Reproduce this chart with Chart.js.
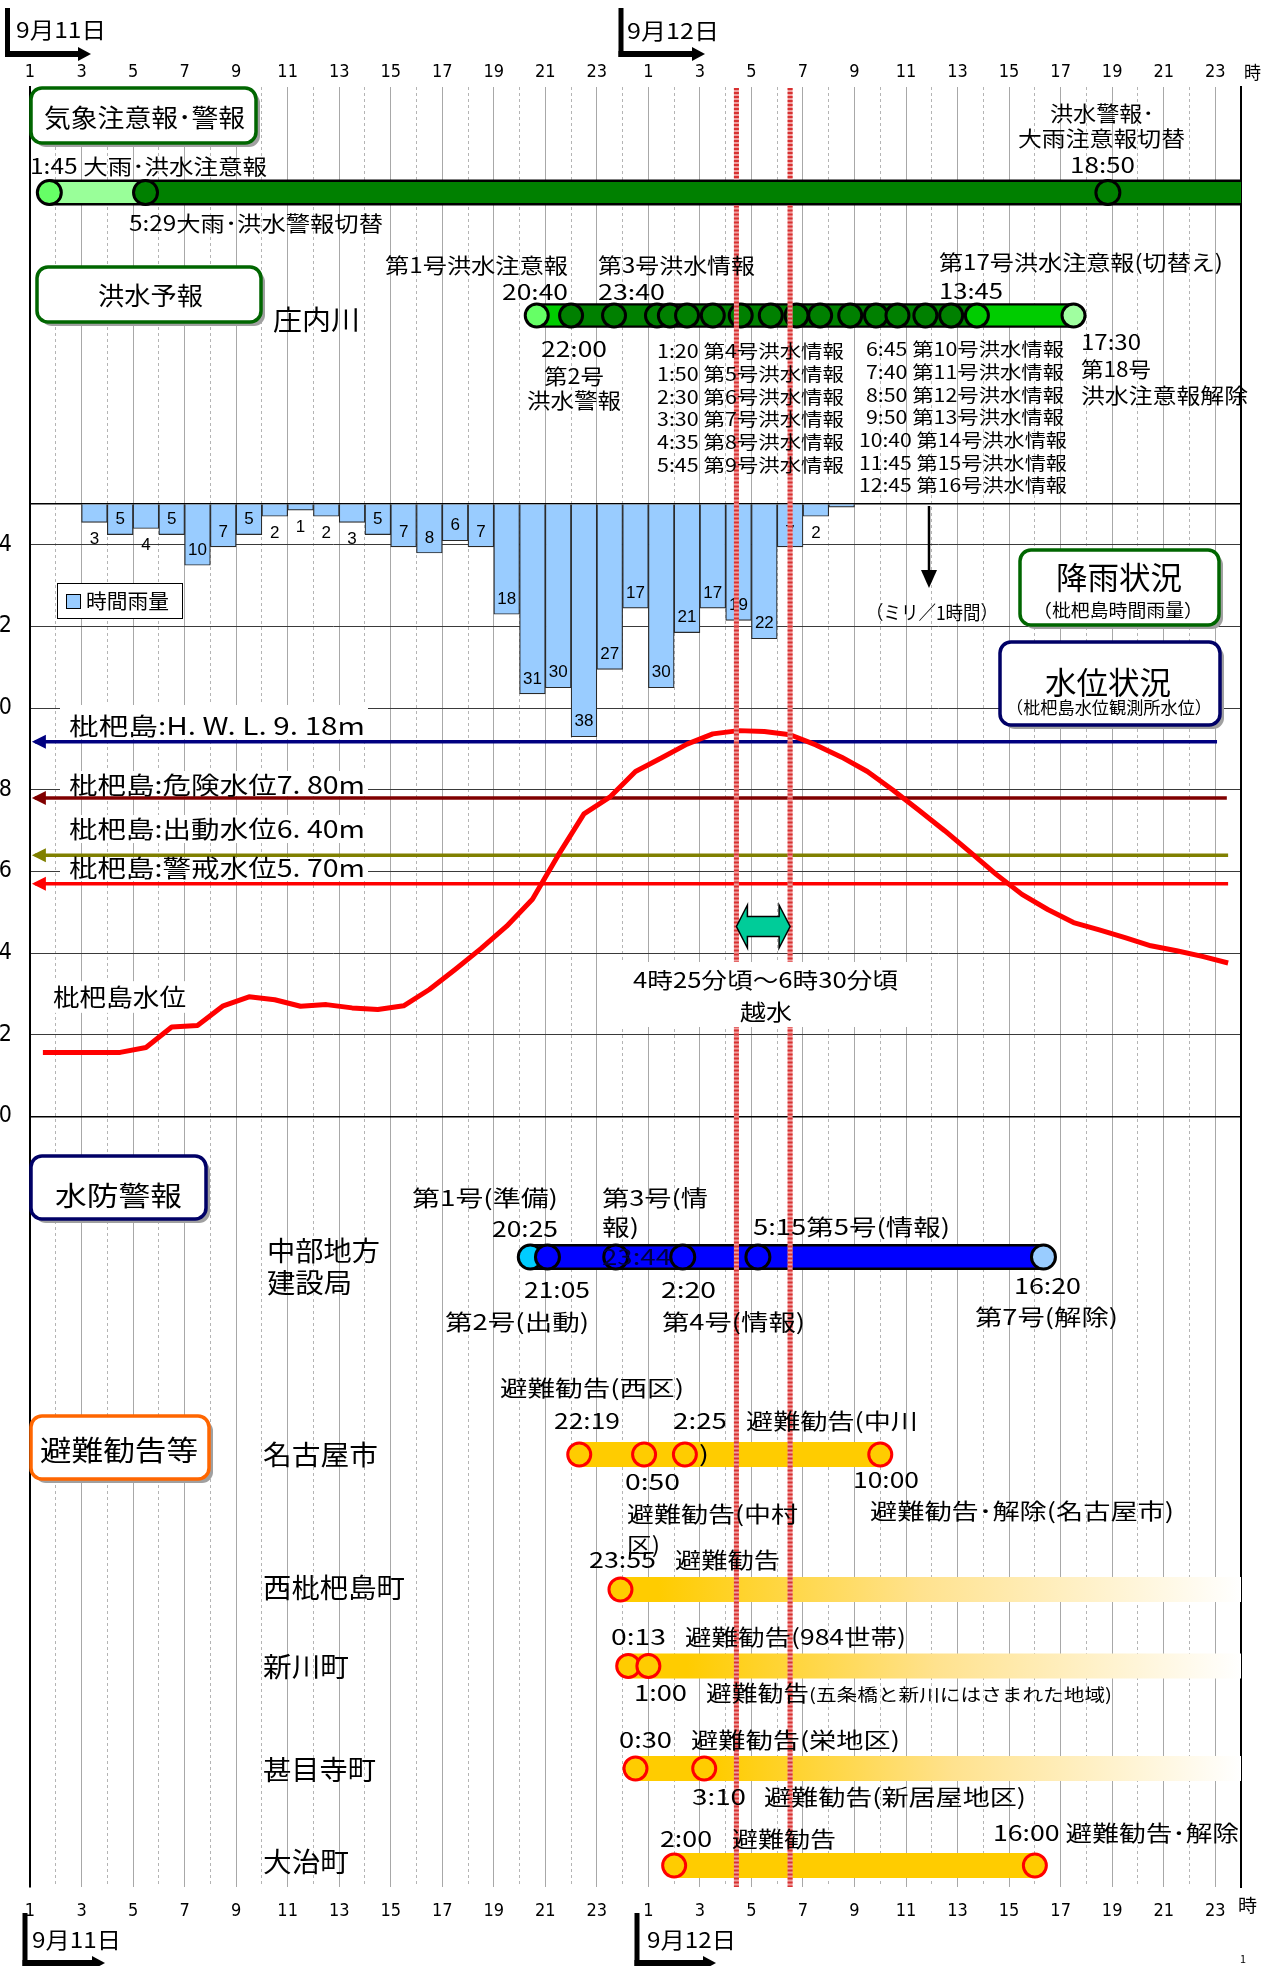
<!DOCTYPE html>
<html lang="ja">
<head>
<meta charset="utf-8">
<title>庄内川 枇杷島 時系列</title>
<script src="https://cdn.jsdelivr.net/npm/chart.js@4.4.1/dist/chart.umd.min.js"></script>
<style>
  html, body { margin:0; padding:0; background:#fff; }
  body { width:1268px; height:1966px; overflow:hidden; position:relative; }
  #c { position:absolute; left:-20px; top:0; }
</style>
</head>
<body>
<canvas id="c" width="1288" height="1966"></canvas>
<script>
// ===================== DATA =====================
// hour index: 9/11 1:00 = 1 ... 9/12 24:00 = 48
const X_TICKS = [1,3,5,7,9,11,13,15,17,19,21,23,25,27,29,31,33,35,37,39,41,43,45,47];
const X_TICK_LABELS = ['1','3','5','7','9','11','13','15','17','19','21','23','1','3','5','7','9','11','13','15','17','19','21','23'];
const X_MINOR_TICKS = [2,4,6,8,10,12,14,16,18,20,22,24,26,28,30,32,34,36,38,40,42,44,46];
const LEVEL_TICKS = [0,2,4,6,8,10,12,14];
const RAIN_TICKS = [0,10,20,30,40,50,60,70,80,90,100];

// hourly rainfall at Biwajima (mm / hour), x = centre of the hour
const RAIN_T  = [3.5,4.5,5.5,6.5,7.5,8.5,9.5,10.5,11.5,12.5,13.5,14.5,15.5,16.5,17.5,18.5,19.5,20.5,21.5,22.5,23.5,24.5,25.5,26.5,27.5,28.5,29.5,30.5,31.5,32.5];
const RAIN_MM = [3,5,4,5,10,7,5,2,1,2,3,5,7,8,6,7,18,31,30,38,27,17,30,21,17,19,22,7,2,0.5];

// Biwajima water level (m)
const LEVEL_T = [1.5,2.5,3.5,4.5,5.5,6.5,7.5,8.5,9.5,10.5,11.5,12.5,13.5,14.5,15.5,16.5,17.5,18.5,19.5,20.5,21.5,22.5,23.5,24.5,25.5,26.5,27.5,28.5,29.5,30.5,31.5,32.5,33.5,34.5,35.5,36.5,37.5,38.5,39.5,40.5,41.5,42.5,43.5,44.5,45.5,46.5,47.5];
const LEVEL_M = [1.57,1.57,1.57,1.57,1.69,2.19,2.23,2.71,2.93,2.86,2.70,2.74,2.66,2.62,2.71,3.11,3.60,4.11,4.66,5.32,6.40,7.41,7.82,8.45,8.78,9.12,9.37,9.45,9.43,9.35,9.10,8.80,8.45,7.99,7.50,7.00,6.47,5.93,5.44,5.07,4.75,4.57,4.38,4.18,4.06,3.92,3.76];

// reference water levels
const THRESH_LABELS = ['枇杷島:H. W. L. 9. 18m','枇杷島:危険水位7. 80m','枇杷島:出動水位6. 40m','枇杷島:警戒水位5. 70m'];
const THRESH_M = [9.18, 7.80, 6.40, 5.70];

// events ("day h:mm")
const WEATHER_EVENTS  = ['11 1:45','11 5:29','12 18:50'];
const FLOOD_EVENTS    = ['11 20:40','11 22:00','11 23:40','12 1:20','12 1:50','12 2:30','12 3:30','12 4:35','12 5:45','12 6:45','12 7:40','12 8:50','12 9:50','12 10:40','12 11:45','12 12:45','12 13:45','12 17:30'];
const SUIBOU_EVENTS   = ['11 20:25','11 21:05','11 23:44','12 2:20','12 5:15','12 16:20'];
const NAGOYA_EVENTS   = ['11 22:19','12 0:50','12 2:25','12 10:00'];
const NISHI_EVENTS    = ['11 23:55'];
const SHINKAWA_EVENTS = ['12 0:13','12 1:00'];
const JIMOKUJI_EVENTS = ['12 0:30','12 3:10'];
const OHARU_EVENTS    = ['12 2:00','12 16:00'];
const OVERFLOW        = ['12 4:25','12 6:30'];
const AXIS_END        = '12 24:00';

// ===================== LAYOUT / STYLE =====================
const W = 1288, H = 1966, OFF = 20;          // canvas is shifted 20px left of page
const TOP = 87, BOT = 1887;                   // chart area (page y)
const WATER_TOP_Y = 504, WATER_BOT_Y = 1116.5; // 15 m / 0 m ; rain 0 / 100 mm
const pxPerM = (WATER_BOT_Y - WATER_TOP_Y) / 15;
const W_MAX = 15 + (WATER_TOP_Y - TOP) / pxPerM, W_MIN = -(BOT - WATER_BOT_Y) / pxPerM;
const pxPerMM = (WATER_BOT_Y - WATER_TOP_Y) / 100;
const R_MIN = -(WATER_TOP_Y - TOP) / pxPerMM, R_MAX = (BOT - WATER_TOP_Y) / pxPerMM;
const LANE_Y = {weather:192.5, flood:315.5, suibou:1257, nagoya:1454.5, nishi:1589.5, shinkawa:1666, jimokuji:1768.5, oharu:1865.5};
const THRESH_COLORS = ['#000080','#800000','#808000','#FF0000'];
const THRESH_X0 = 1.19, THRESH_X1 = [47.07, 47.45, 47.5, 47.5];
const THRESH_TEXT_Y = [726, 785, 829, 868];
const THRESH_BG = [[705, 739], [771, 796], [815, 843], [858, 881]];
const GOLD = '#FFCC00';
const JP = "'Noto Sans CJK JP','Noto Sans CJK SC',sans-serif";
const NARROW = "'Liberation Sans Narrow','DejaVu Sans Condensed','Liberation Sans',sans-serif";
const NUM = "'Liberation Sans',Arial,sans-serif";
const P = x => x + OFF;

const hr = s => { const [d, hm] = s.split(' '); const [h, m] = hm.split(':').map(Number); return (d === '12' ? 24 : 0) + h + m / 60; };
const lv = k => LANE_Y[k] - TOP;

// text annotations [text, x1, x2, yCentre, size, opts] (page coords)
const ANN = [
  ['気象注意報･警報', 44, 245, 117, 25],
  ['1:45 大雨･洪水注意報', 30, 267, 166, 21],
  ['5:29大雨･洪水警報切替', 129, 383, 223, 21],
  ['洪水警報･', 1050, 1154, 113, 21],
  ['大雨注意報切替', 1018, 1185, 138, 21],
  ['18:50', 1070, 1135, 165, 21],
  ['洪水予報', 98, 203, 295, 25],
  ['庄内川', 273, 360, 320, 27],
  ['第1号洪水注意報', 385, 568, 265, 21],
  ['20:40', 502, 568, 292, 21],
  ['第3号洪水情報', 598, 755, 265, 21],
  ['23:40', 598, 665, 292, 21],
  ['第17号洪水注意報(切替え)', 939, 1223, 262, 21],
  ['13:45', 939, 1003, 291, 21],
  ['22:00', 541, 607, 349, 21],
  ['第2号', 544, 604, 376, 21],
  ['洪水警報', 527, 621, 400, 21],
  ['1:20 第4号洪水情報', 657, 844, 351, 18],
  ['1:50 第5号洪水情報', 657, 844, 374, 18],
  ['2:30 第6号洪水情報', 657, 844, 397, 18],
  ['3:30 第7号洪水情報', 657, 844, 419, 18],
  ['4:35 第8号洪水情報', 657, 844, 442, 18],
  ['5:45 第9号洪水情報', 657, 844, 465, 18],
  ['6:45 第10号洪水情報', 866, 1064, 349, 18],
  ['7:40 第11号洪水情報', 866, 1064, 372, 18],
  ['8:50 第12号洪水情報', 866, 1064, 395, 18],
  ['9:50 第13号洪水情報', 866, 1064, 417, 18],
  ['10:40 第14号洪水情報', 859, 1067, 440, 18],
  ['11:45 第15号洪水情報', 859, 1067, 463, 18],
  ['12:45 第16号洪水情報', 859, 1067, 485, 18],
  ['17:30', 1081, 1141, 342, 21],
  ['第18号', 1081, 1151, 369, 21],
  ['洪水注意報解除', 1081, 1248, 395, 21],
  ['時間雨量', 86, 169, 601, 20],
  ['（ミリ／1時間）', 866, 998, 613, 19],
  ['降雨状況', 1056, 1182, 577, 31],
  ['（枇杷島時間雨量）', 1033, 1203, 610, 18],
  ['水位状況', 1045, 1171, 682, 31],
  ['（枇杷島水位観測所水位）', 1006, 1212, 708, 17],
  ['枇杷島水位', 53, 186, 997, 24, {bg:true}],
  ['4時25分頃～6時30分頃', 633, 898, 980, 22],
  ['越水', 740, 792, 1012, 22],
  ['水防警報', 55, 182, 1196, 27],
  ['中部地方', 267, 380, 1251, 27],
  ['建設局', 267, 352, 1283, 27],
  ['第1号(準備)', 412, 558, 1198, 22],
  ['20:25', 492, 558, 1229, 22],
  ['第3号(情', 602, 708, 1198, 22],
  ['報)', 602, 639, 1227, 22],
  ['5:15第5号(情報)', 753, 950, 1227, 22],
  ['23:44', 602, 671, 1257, 22, {color:'#000040'}],
  ['21:05', 524, 590, 1290, 22],
  ['2:20', 661, 716, 1290, 22],
  ['16:20', 1014, 1081, 1286, 22],
  ['第2号(出動)', 445, 589, 1322, 22],
  ['第4号(情報)', 662, 805, 1322, 22],
  ['第7号(解除)', 975, 1118, 1317, 22],
  ['避難勧告等', 40, 198, 1450, 28],
  ['名古屋市', 263, 378, 1455, 27],
  ['避難勧告(西区)', 500, 684, 1388, 22],
  ['22:19', 554, 620, 1421, 22],
  ['2:25', 673, 727, 1421, 22],
  ['避難勧告(中川', 746, 918, 1421, 22],
  [')', 699, 709, 1454, 22],
  ['0:50', 625, 680, 1482, 22],
  ['10:00', 853, 919, 1480, 22],
  ['避難勧告(中村', 627, 798, 1514, 22],
  ['区)', 627, 660, 1545, 22],
  ['避難勧告･解除(名古屋市)', 870, 1174, 1511, 22],
  ['西枇杷島町', 263, 405, 1588, 27],
  ['23:55', 589, 656, 1560, 22],
  ['避難勧告', 675, 780, 1560, 22],
  ['新川町', 263, 349, 1667, 27],
  ['0:13', 611, 666, 1637, 22],
  ['避難勧告(984世帯)', 685, 906, 1637, 22],
  ['1:00', 634, 687, 1693, 22],
  ['避難勧告', 706, 809, 1693, 22],
  ['(五条橋と新川にはさまれた地域)', 809, 1112, 1695, 17],
  ['甚目寺町', 263, 376, 1770, 27],
  ['0:30', 619, 672, 1740, 22],
  ['避難勧告(栄地区)', 691, 900, 1740, 22],
  ['3:10', 692, 746, 1797, 22],
  ['避難勧告(新居屋地区)', 764, 1026, 1797, 22],
  ['大治町', 263, 349, 1862, 27],
  ['2:00', 660, 712, 1839, 22],
  ['避難勧告', 732, 836, 1839, 22],
  ['16:00 避難勧告･解除', 993, 1239, 1833, 22]
];
const OUTER = [
  ['9月11日', 16, 106, 30, 22],
  ['9月12日', 627, 719, 31, 22],
  ['時', 1244, 1261, 72, 18],
  ['時', 1238, 1257, 1905, 18],
  ['9月11日', 32, 121, 1940, 22],
  ['9月12日', 647, 736, 1940, 22],
  ['1', 1240, 1246, 1959, 11]
];
const BOXES = [
  [31, 88, 256, 143, '#006600'],
  [37, 267, 261, 322, '#006600'],
  [1020, 550, 1219, 625, '#006600'],
  [1000, 642, 1220, 725, '#000066'],
  [31, 1156, 206, 1219, '#000066'],
  [31, 1416, 209, 1479, '#FF6600']
];

// ===================== HELPERS =====================
function T(c, s, x1, x2, y, size, o) {
  o = o || {};
  c.save();
  c.font = size + 'px ' + (o.font || JP);
  c.textBaseline = 'middle'; c.textAlign = 'left';
  const m = c.measureText(s).width;
  let sx = (x2 - x1) / m; sx = Math.max(0.55, Math.min(1.6, sx));
  if (o.bg) { c.fillStyle = '#fff'; c.fillRect(P(x1) - 3, y - size * 0.66, (x2 - x1) + 6, size * 1.32); }
  c.fillStyle = o.color || '#000';
  c.translate(P(x1), y); c.scale(sx, 1);
  c.fillText(s, 0, 0);
  c.restore();
}
function rr(c, x, y, w, h, r) {
  c.beginPath(); c.moveTo(x + r, y);
  c.arcTo(x + w, y, x + w, y + h, r); c.arcTo(x + w, y + h, x, y + h, r);
  c.arcTo(x, y + h, x, y, r); c.arcTo(x, y, x + w, y, r); c.closePath();
}
function box(c, x1, y1, x2, y2, color) {
  c.save();
  rr(c, P(x1) + 4, y1 + 4, x2 - x1, y2 - y1, 11); c.fillStyle = '#a0a0a0'; c.fill();
  rr(c, P(x1), y1, x2 - x1, y2 - y1, 11); c.fillStyle = '#fff'; c.fill();
  c.lineWidth = 3.5; c.strokeStyle = color; c.stroke();
  c.restore();
}
function dateArrow(c, x, yTop, yBot, xEnd) {
  c.save(); c.fillStyle = '#000';
  c.fillRect(P(x) - 2.5, yTop, 5, yBot - yTop);
  c.fillRect(P(x) - 2.5, yBot - 6, (xEnd - 12) - x + 2.5, 6);
  c.beginPath(); c.moveTo(P(xEnd), yBot - 3); c.lineTo(P(xEnd - 13), yBot - 10); c.lineTo(P(xEnd - 13), yBot + 4); c.closePath(); c.fill();
  c.restore();
}

// ===================== DATASETS =====================
function seg(lane, a, b, color, width, order) {
  return {type:'line', xAxisID:'x', yAxisID:'yLane', data:[{x:a, y:lv(lane)}, {x:b, y:lv(lane)}],
    borderColor:color, borderWidth:width, borderCapStyle:'butt', pointRadius:0, fill:false, order:order, clip:false};
}
function marks(lane, xs, fills, stroke, r) {
  return {type:'line', showLine:false, xAxisID:'x', yAxisID:'yLane', data:xs.map(x => ({x:x, y:lv(lane)})),
    pointRadius:r, pointBackgroundColor:fills, pointBorderColor:stroke, pointBorderWidth:3, order:0, clip:false};
}
function fade(fromH) {
  return function(ctx) {
    const ch = ctx.chart; if (!ch.chartArea) return GOLD;
    const x0 = ch.scales.x.getPixelForValue(fromH);
    const g = ch.ctx.createLinearGradient(x0, 0, ch.chartArea.right, 0);
    g.addColorStop(0, GOLD); g.addColorStop(0.45, '#FFE28E'); g.addColorStop(1, '#FFFFFF');
    return g;
  };
}

function build() {
  const E = a => a.map(hr);
  const we = E(WEATHER_EVENTS), fe = E(FLOOD_EVENTS), se = E(SUIBOU_EVENTS), ne = E(NAGOYA_EVENTS),
        ni = E(NISHI_EVENTS), sk = E(SHINKAWA_EVENTS), jm = E(JIMOKUJI_EVENTS), oh = E(OHARU_EVENTS), END = hr(AXIS_END);

  const ds = [];
  ds.push(marks('weather', we, ['#66FF66','#008000','#008000'], '#000', 12));
  ds.push(marks('flood', fe, fe.map((_, i) => i === 0 ? '#66FF66' : i === fe.length - 2 ? '#00CC00' : i === fe.length - 1 ? '#A0FFA0' : '#008000'), '#000', 11.5));
  ds.push(marks('suibou', se, se.map((_, i) => i === 0 ? '#00CCFF' : i === se.length - 1 ? '#99CCFF' : '#0000FF'), '#000', 12));
  ds.push(marks('nagoya', ne, GOLD, '#FF0000', 11.5));
  ds.push(marks('nishi', ni, GOLD, '#FF0000', 11.5));
  ds.push(marks('shinkawa', sk, GOLD, '#FF0000', 11.5));
  ds.push(marks('jimokuji', jm, GOLD, '#FF0000', 11.5));
  ds.push(marks('oharu', oh, GOLD, '#FF0000', 11.5));
  ds.push(seg('weather', we[0], we[1], '#99FF99', 21, 1));
  ds.push(seg('weather', we[1], END, '#008000', 21, 1));
  ds.push(seg('flood', fe[0], fe[1], '#00CC00', 20, 1));
  ds.push(seg('flood', fe[1], fe[fe.length - 2], '#008000', 20, 1));
  ds.push(seg('flood', fe[fe.length - 2], fe[fe.length - 1], '#00CC00', 20, 1));
  ds.push(seg('suibou', se[0], se[se.length - 1], '#0000FF', 21, 1));
  ds.push(seg('nagoya', ne[0], ne[ne.length - 1], GOLD, 25, 1));
  ds.push(seg('nishi', ni[0], END, fade(ni[0] + 1.5), 25, 1));
  ds.push(seg('shinkawa', sk[0], END, fade(sk[sk.length - 1] + 1.5), 25, 1));
  ds.push(seg('jimokuji', jm[0], END, fade(jm[jm.length - 1] + 0.5), 25, 1));
  ds.push(seg('oharu', oh[0], oh[oh.length - 1], GOLD, 25, 1));
  ds.push(seg('weather', we[0], END, '#000', 26, 2));
  ds.push(seg('flood', fe[0], fe[fe.length - 1], '#000', 24.5, 2));
  ds.push(seg('suibou', se[0], se[se.length - 1], '#000', 26, 2));
  ds.push({type:'line', xAxisID:'x', yAxisID:'yW', data:LEVEL_T.map((t, i) => ({x:t, y:LEVEL_M[i]})),
    borderColor:'#FF0000', borderWidth:5, pointRadius:0, tension:0, borderJoinStyle:'round', fill:false, order:3});
  THRESH_M.forEach((v, i) => ds.push({type:'line', xAxisID:'x', yAxisID:'yW', data:[{x:THRESH_X0, y:v}, {x:THRESH_X1[i], y:v}],
    borderColor:THRESH_COLORS[i], borderWidth:3.5, pointRadius:0, fill:false, order:4}));
  const RAIN_DS = ds.length;
  ds.push({type:'bar', xAxisID:'x', yAxisID:'yR', data:RAIN_T.map((t, i) => ({x:t, y:RAIN_MM[i]})),
    backgroundColor:'#99CCFF', borderColor:'#2a2a2a', borderWidth:1.2, barPercentage:1, categoryPercentage:1, grouped:false, order:5});

  const deco = {
    id:'deco',
    beforeDraw(chart) { const c = chart.ctx; c.save(); c.fillStyle = '#fff'; c.fillRect(0, 0, chart.width, chart.height); c.restore(); },
    afterDatasetsDraw(chart) {
      const c = chart.ctx, xs = chart.scales.x, yW = chart.scales.yW;
      const meta = chart.getDatasetMeta(RAIN_DS);
      c.save(); c.font = '17px ' + NUM; c.fillStyle = '#000'; c.textAlign = 'center'; c.textBaseline = 'middle';
      meta.data.forEach((el, i) => {
        const v = RAIN_MM[i]; if (v < 1) return;
        const bottom = Math.max(el.y, el.base);
        c.fillText(String(v), el.x, v >= 5 ? bottom - 15 : bottom + 17);
      });
      c.restore();
      THRESH_M.forEach((v, i) => {
        const y = yW.getPixelForValue(v), x = xs.getPixelForValue(THRESH_X0);
        c.save(); c.fillStyle = THRESH_COLORS[i]; c.beginPath();
        c.moveTo(x - 3, y); c.lineTo(x + 11, y - 7); c.lineTo(x + 11, y + 7); c.closePath(); c.fill(); c.restore();
      });
      const ov = OVERFLOW.map(hr);
      ov.forEach(h => {
        const x = xs.getPixelForValue(h);
        [[TOP + 1, LANE_Y.weather - 13], [LANE_Y.weather + 13, BOT]].forEach(([a, b]) => {
          c.save();
          c.lineWidth = 5; c.strokeStyle = '#F0A0A0'; c.beginPath(); c.moveTo(x, a); c.lineTo(x, b); c.stroke();
          c.setLineDash([2, 2]); c.lineWidth = 5; c.strokeStyle = '#D83030'; c.beginPath(); c.moveTo(x, a); c.lineTo(x, b); c.stroke();
          c.restore();
        });
      });
      {
        const x1 = xs.getPixelForValue(ov[0]), x2 = xs.getPixelForValue(ov[1]), yc = 926.5, hh = 21.5, sh = 10, hl = 11;
        c.save(); c.beginPath();
        c.moveTo(x1, yc); c.lineTo(x1 + hl, yc - hh); c.lineTo(x1 + hl, yc - sh); c.lineTo(x2 - hl, yc - sh); c.lineTo(x2 - hl, yc - hh);
        c.lineTo(x2, yc); c.lineTo(x2 - hl, yc + hh); c.lineTo(x2 - hl, yc + sh); c.lineTo(x1 + hl, yc + sh); c.lineTo(x1 + hl, yc + hh); c.closePath();
        c.fillStyle = '#00CC99'; c.fill(); c.lineWidth = 1.5; c.strokeStyle = '#000'; c.stroke(); c.restore();
        c.save(); c.fillStyle = '#fff'; c.fillRect(P(620), 962, 287, 65); c.restore();
      }
      THRESH_LABELS.forEach((s, i) => {
        const [b0, b1] = THRESH_BG[i];
        c.save(); c.fillStyle = '#fff'; c.fillRect(P(60), b0, 308, b1 - b0); c.restore();
        T(c, s, 69, 365, THRESH_TEXT_Y[i], 24);
      });
      BOXES.forEach(b => box(c, b[0], b[1], b[2], b[3], b[4]));
      c.save();
      c.fillStyle = '#fff'; c.fillRect(P(57), 583, 125, 35); c.lineWidth = 1; c.strokeStyle = '#000'; c.strokeRect(P(57) + 0.5, 583.5, 125, 35);
      c.fillStyle = '#99CCFF'; c.fillRect(P(66), 594, 14, 14); c.strokeRect(P(66) + 0.5, 594.5, 14, 14);
      c.restore();
      c.save(); c.strokeStyle = '#000'; c.fillStyle = '#000'; c.lineWidth = 2.5;
      c.beginPath(); c.moveTo(P(929), 506); c.lineTo(P(929), 572); c.stroke();
      c.beginPath(); c.moveTo(P(921), 570); c.lineTo(P(937), 570); c.lineTo(P(929), 588); c.closePath(); c.fill(); c.restore();
      ANN.forEach(a => T(c, a[0], a[1], a[2], a[3], a[4], a[5]));
    },
    afterDraw(chart) {
      const c = chart.ctx;
      dateArrow(c, 7.5, 8, 57, 91);
      dateArrow(c, 621, 8, 57, 705);
      dateArrow(c, 25, 1913, 1966, 105);
      dateArrow(c, 637, 1913, 1966, 716);
      OUTER.forEach(a => T(c, a[0], a[1], a[2], a[3], a[4], a[5]));
    }
  };

  Chart.defaults.font.family = JP;
  const xTicks = s => { s.ticks = X_TICKS.map(v => ({value:v})); };
  const chart = new Chart(document.getElementById('c'), {
    type:'line',
    data:{datasets:ds},
    options:{
      responsive:false, animation:false, devicePixelRatio:1, events:[],
      layout:{padding:0},
      plugins:{legend:{display:false}, tooltip:{enabled:false}},
      scales:{
        xTop:{type:'linear', position:'top', min:1, max:48, bounds:'data', offset:false,
          afterBuildTicks:xTicks, afterFit:s => { s.height = TOP; },
          ticks:{autoSkip:false, maxRotation:0, minRotation:0, padding:4, color:'#000', font:{family:NARROW, size:18},
            callback:(v, i) => X_TICK_LABELS[i]},
          grid:{color:'#A8A8A8', lineWidth:1, drawTicks:false, offset:false}, border:{display:false}},
        x:{type:'linear', position:'bottom', min:1, max:48, bounds:'data', offset:false,
          afterBuildTicks:xTicks, afterFit:s => { s.height = H - BOT; },
          ticks:{autoSkip:false, maxRotation:0, minRotation:0, padding:6, color:'#000', font:{family:NARROW, size:18},
            callback:(v, i) => X_TICK_LABELS[i]},
          grid:{display:false, offset:false}, border:{display:false}},
        xEven:{type:'linear', position:'bottom', min:1, max:48, bounds:'data', offset:false,
          afterBuildTicks:s => { s.ticks = X_MINOR_TICKS.map(v => ({value:v})); }, afterFit:s => { s.height = 0; },
          ticks:{display:false}, grid:{color:'#B4B4B4', lineWidth:1, drawTicks:false, offset:false}, border:{display:false, dash:[3,3]}},
        yW:{type:'linear', position:'left', min:W_MIN, max:W_MAX, bounds:'data',
          afterBuildTicks:s => { s.ticks = LEVEL_TICKS.concat([15]).map(v => ({value:v})); }, afterFit:s => { s.width = 50; },
          ticks:{padding:18, color:'#000', font:{family:NARROW, size:23}, callback:v => v === 15 ? '' : String(v)},
          grid:{drawTicks:false, color:c => (c.tick && (c.tick.value === 0 || c.tick.value === 15)) ? '#000' : '#3a3a3a',
            lineWidth:c => (c.tick && (c.tick.value === 0 || c.tick.value === 15)) ? 1.5 : 1},
          border:{display:true, color:'#000', width:2}},
        yR:{type:'linear', position:'right', reverse:true, min:R_MIN, max:R_MAX, bounds:'data',
          afterBuildTicks:s => { s.ticks = RAIN_TICKS.map(v => ({value:v})); }, afterFit:s => { s.width = W - OFF - 1241; },
          ticks:{display:false}, grid:{drawOnChartArea:false, drawTicks:false}, border:{display:true, color:'#000', width:2}},
        yLane:{type:'linear', display:false, reverse:true, min:0, max:BOT - TOP}
      }
    },
    plugins:[deco]
  });
  chart.update('none');
}

const loads = [document.fonts.load("20px 'Noto Sans CJK JP'"), document.fonts.load("18px 'Liberation Sans Narrow'"),
  document.fonts.load("18px 'DejaVu Sans Condensed'"), document.fonts.load("18px 'Liberation Sans'")];
Promise.all(loads).catch(() => {}).then(build);
</script>
</body>
</html>
